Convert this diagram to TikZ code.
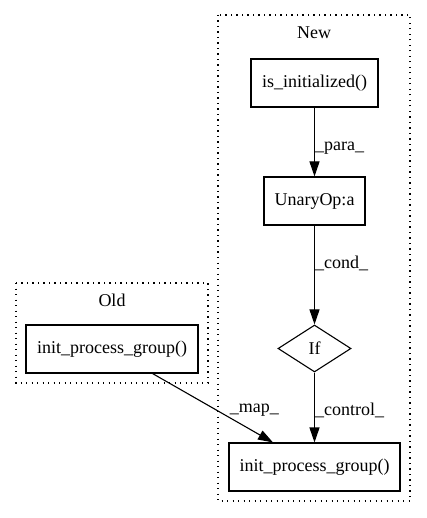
\documentclass[tikz,border=0pt]{standalone}
\usepackage{fontspec}
\setmainfont{Liberation Serif}
\usetikzlibrary{arrows.meta,shapes.geometric}

\begin{document}
\begin{tikzpicture}[x=1pt, y=-1pt,
    font=\fontsize{18}{20}\selectfont,
    box/.style={draw, line width=1.1pt, rectangle, minimum height=48pt, inner sep=0pt},
    cond box/.style={draw, line width=1.1pt, diamond, aspect=1.55, minimum width=73pt, minimum height=47pt, inner sep=0pt},
    cluster/.style={draw, line width=1.3pt, dash pattern=on 1.3pt off 4.2pt},
    edge/.style={line width=1.1pt, -{Triangle[length=15pt, width=10pt]}},
    edge label/.style={anchor=west, inner sep=0pt}]
    \useasboundingbox (0,0) rectangle (427,518);

    % clusters
    \draw[cluster] (218,15) rectangle (410,501);
    \node (newlbl) at (314,33) {New};
    \draw[cluster] (16,283) rectangle (208,383);
    \node (oldlbl) at (112,300) {Old};

    % nodes
    \node[box, minimum width=127pt] (isinit) at (314.5,83) {is\_initialized()};
    \node[box, minimum width=101pt] (unary) at (314.5,201) {UnaryOp:a};
    \node[cond box] (ifnode) at (314.5,348.5) {If};
    \node[box, minimum width=171pt] (newinit) at (314.5,467) {init\_process\_group()};
    \node[box, minimum width=172pt] (oldinit) at (112,349) {init\_process\_group()};

    % edges
    \draw[edge] (isinit) -- node[edge label, pos=0.59] {\_para\_} (unary);
    \draw[edge] (unary) -- node[edge label, pos=0.38] {\_cond\_} (ifnode);
    \draw[edge] (ifnode) -- node[edge label, pos=0.535] {\_control\_} (newinit);
    \draw[edge] (oldinit.south east) ++(-46,0) coordinate (mapstart)
        (mapstart) -- node[edge label, pos=0.53, xshift=13pt] {\_map\_} (newinit.north west -| 273,0);
\end{tikzpicture}
\end{document}
